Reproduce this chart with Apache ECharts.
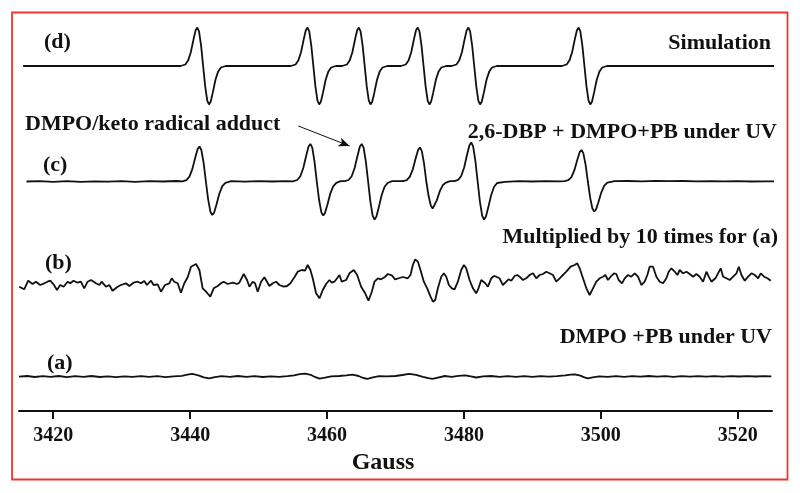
<!DOCTYPE html>
<html>
<head>
<meta charset="utf-8">
<script src="https://cdn.jsdelivr.net/npm/echarts@6/dist/echarts.min.js"></script>
<style>
html,body{margin:0;padding:0;background:#fff;}
#chart{width:800px;height:493px;}
</style>
</head>
<body>
<div id="chart"></div>
<script>
// X axis (Gauss)
const xMin = 3415, xMax = 3525;
const tickValues = [3420, 3440, 3460, 3480, 3500, 3520];

// trace vertical offsets (baseline levels, a.u.)
const traceNames = ['(d)', '(c)', '(b)', '(a)'];
const traceOffsets = [345, 229.5, 128, 34.4];

// (d) Simulation  [Gauss, intensity]
const simD = [
[3415.6,0],[3438.6,0],
[3439.3,1.5],[3439.7,5.4],[3440.1,13.8],[3440.5,26.9],[3440.8,35.7],[3441.05,38.4],[3441.3,34.6],[3441.6,20.4],[3441.9,0],[3442.2,-20.4],[3442.5,-34.6],[3442.75,-38.4],[3443.0,-35.7],[3443.3,-26.9],[3443.7,-13.8],[3444.1,-5.4],[3444.5,-1.5],[3445.2,0],
[3454.7,0],[3455.4,1.5],[3455.8,5.4],[3456.2,13.8],[3456.6,26.9],[3456.9,35.7],[3457.15,38.4],[3457.4,34.6],[3457.7,20.4],[3458.0,0],[3458.3,-20.4],[3458.6,-34.6],[3458.85,-38.4],[3459.1,-35.7],[3459.4,-26.9],[3459.8,-13.8],[3460.2,-5.4],[3460.6,-1.5],[3461.3,0],
[3462.2,0],[3462.9,1.5],[3463.3,5.4],[3463.7,13.8],[3464.1,26.9],[3464.4,35.7],[3464.65,38.4],[3464.9,34.6],[3465.2,20.4],[3465.5,0],[3465.8,-20.4],[3466.1,-34.6],[3466.35,-38.4],[3466.6,-35.7],[3466.9,-26.9],[3467.3,-13.8],[3467.7,-5.4],[3468.1,-1.5],[3468.8,0],
[3470.8,0],[3471.5,1.5],[3471.9,5.4],[3472.3,13.8],[3472.7,26.9],[3473.0,35.7],[3473.25,38.4],[3473.5,34.6],[3473.8,20.4],[3474.1,0],[3474.4,-20.4],[3474.7,-34.6],[3474.95,-38.4],[3475.2,-35.7],[3475.5,-26.9],[3475.9,-13.8],[3476.3,-5.4],[3476.7,-1.5],[3477.4,0],
[3478.2,0],[3478.9,1.5],[3479.3,5.4],[3479.7,13.8],[3480.1,26.9],[3480.4,35.7],[3480.65,38.4],[3480.9,34.6],[3481.2,20.4],[3481.5,0],[3481.8,-20.4],[3482.1,-34.6],[3482.35,-38.4],[3482.6,-35.7],[3482.9,-26.9],[3483.3,-13.8],[3483.7,-5.4],[3484.1,-1.5],[3484.8,0],
[3494.3,0],[3495.0,1.5],[3495.4,5.4],[3495.8,13.8],[3496.2,26.9],[3496.5,35.7],[3496.75,38.4],[3497.0,34.6],[3497.3,20.4],[3497.6,0],[3497.9,-20.4],[3498.2,-34.6],[3498.45,-38.4],[3498.7,-35.7],[3499.0,-26.9],[3499.4,-13.8],[3499.8,-5.4],[3500.2,-1.5],[3500.9,0],
[3525.5,0]
];

// (c) 2,6-DBP + DMPO+PB under UV
const expC = [
[3416.1,0],[3418,0.4],[3420,-0.3],[3422,0.3],[3424,-0.4],[3426,0.2],[3428,-0.2],[3430,0.4],[3432,-0.3],[3434,0.3],[3436,0],[3438,0.5],[3438.9,0.2],
[3439.45,1.4],[3439.9,4.9],[3440.33,12.6],[3440.77,24.5],[3441.1,32.6],[3441.37,35],[3441.64,31.5],[3441.97,18.6],[3442.3,0],[3442.63,-17.8],[3442.96,-30.2],[3443.23,-33.5],[3443.5,-31.2],[3443.83,-23.5],[3444.27,-12.1],[3444.7,-4.7],[3445.15,-1.3],
[3446,0.3],[3448,-0.2],[3450,0.4],[3452,0],[3454,0.3],[3455,0.2],
[3455.65,1.5],[3456.1,5.3],[3456.53,13.5],[3456.97,26.3],[3457.3,34.9],[3457.57,37.5],[3457.84,33.8],[3458.17,19.9],[3458.5,0],[3458.83,-18],[3459.16,-30.6],[3459.43,-34],[3459.7,-31.6],[3460.03,-23.8],[3460.47,-12.2],[3460.9,-4.8],[3461.35,-1.4],
[3462,0.4],[3462.6,0.3],
[3463.15,1.5],[3463.6,5.3],[3464.03,13.5],[3464.47,26.3],[3464.8,34.9],[3465.07,37.5],[3465.34,33.8],[3465.67,19.9],[3466.0,0],[3466.33,-20.1],[3466.66,-34.2],[3466.93,-38],[3467.2,-35.3],[3467.53,-26.6],[3467.97,-13.7],[3468.4,-5.3],[3468.85,-1.5],
[3469.5,0.3],[3470.8,0.4],[3471.2,0.5],
[3471.65,1.4],[3472.1,4.8],[3472.53,12.2],[3472.97,23.8],[3473.3,31.6],[3473.57,34],[3473.84,30.6],[3474.17,18],[3474.5,0],[3474.83,-14.3],[3475.16,-24.3],[3475.43,-27],[3475.7,-25.1],[3476.03,-18.9],[3476.47,-9.7],[3476.9,-3.8],[3477.35,-1.1],
[3478.0,0.3],[3478.6,0.4],
[3479.15,1.6],[3479.6,5.5],[3480.03,14],[3480.47,27.3],[3480.8,36.3],[3481.07,39],[3481.34,35.1],[3481.67,20.7],[3482.0,0],[3482.33,-20.1],[3482.66,-34.2],[3482.93,-38],[3483.2,-35.3],[3483.53,-26.6],[3483.97,-13.7],[3484.4,-5.3],[3484.85,-1.5],
[3486,-0.3],[3488,0.4],[3490,0],[3492,0.4],[3494,0.2],[3494.7,0.4],
[3495.25,1.3],[3495.7,4.4],[3496.13,11.3],[3496.57,22],[3496.9,29.3],[3497.17,31.5],[3497.44,28.4],[3497.77,16.7],[3498.1,0],[3498.43,-15.9],[3498.76,-27],[3499.03,-30],[3499.3,-27.9],[3499.63,-21],[3500.07,-10.8],[3500.5,-4.2],[3500.95,-1.2],
[3502,0.3],[3504,0.5],[3506,0.2],[3508,0.6],[3510,0.3],[3512,0.5],[3514,0.2],[3516,0.4],[3518,0.1],[3520,0.3],[3522,0],[3524,0.2],[3525.8,0]
];

// (b) Multiplied by 10 times for (a)
const expB = [
[3415.03,-3.7],[3415.76,-6.3],[3416.35,2.3],[3416.98,-1],[3417.47,1.3],[3418.10,-2],[3418.68,-0.3],[3419.17,1.3],[3419.56,2.3],[3420.05,-1.3],[3420.54,-7],[3421.02,-2],[3421.51,-3.7],[3422.10,1.3],[3422.49,-0.3],[3422.97,2.3],[3423.56,0.3],[3424.04,1.3],[3424.53,-5.3],[3425.02,1.3],[3425.51,3],[3426.24,-0.3],[3426.73,-2],[3427.07,1.3],[3427.70,-3.7],[3428.19,-2],[3428.67,-7.7],[3429.41,-3.7],[3429.89,-2],[3430.62,-0.3],[3431.11,-3],[3431.74,0.3],[3432.33,1.3],[3432.82,-0.3],[3433.30,2],[3433.69,-2],[3434.28,2.3],[3434.67,-2],[3435.25,-1.3],[3435.74,-8.7],[3436.33,-2],[3436.96,-0.3],[3437.30,4.7],[3437.69,1.3],[3438.18,-0.3],[3438.66,-9.7],[3439.15,-0.3],[3439.64,5.7],[3440.13,16.3],[3440.86,19],[3441.35,13],[3441.83,-5.3],[3442.32,-8.7],[3442.95,-13.7],[3443.44,-5.3],[3444.03,-3],[3444.51,-0.3],[3444.90,1.3],[3445.49,-1],[3446.22,0.3],[3446.85,-1],[3447.19,0.3],[3447.83,9],[3448.31,3],[3448.66,-3.7],[3449.14,1.3],[3449.48,-0.3],[3449.87,-8.7],[3450.36,1.3],[3450.85,5.7],[3451.58,-3],[3452.07,-0.3],[3452.55,1.3],[3453.04,-2],[3453.67,-3.7],[3454.16,-3],[3454.65,-0.3],[3455.23,5.7],[3455.72,11.3],[3456.31,13],[3456.79,12.3],[3457.18,18],[3457.57,13],[3457.91,4.7],[3458.40,-10.3],[3458.89,-15.3],[3459.38,-7],[3459.86,-1],[3460.35,3],[3460.69,0.3],[3461.08,1.3],[3461.47,4.7],[3461.81,8],[3462.15,1.3],[3462.79,3],[3463.27,9.7],[3463.91,13],[3464.40,8],[3464.98,-3.7],[3465.57,-10.3],[3466.05,-17.7],[3466.54,-8.7],[3466.93,1.3],[3467.42,4.7],[3467.90,3.7],[3468.39,5.7],[3468.88,9],[3469.46,7.7],[3469.95,3.7],[3470.58,5],[3471.07,6],
[3471.80,4.7],[3472.19,8],[3472.53,18],[3472.88,23.7],[3473.27,21.3],[3473.65,13],[3474.14,1.3],[3474.63,-5.3],[3475.12,-13.7],[3475.46,-18.7],[3475.80,-17],[3476.19,-5.3],[3476.68,6.3],[3477.07,9.7],[3477.41,6.3],[3477.80,-2],[3478.24,-5.3],[3478.63,-6.3],[3479.11,1.3],[3479.60,13],[3479.99,18],[3480.33,14.7],[3480.82,3],[3481.31,-5.3],[3481.79,-10.3],[3482.13,-5.3],[3482.52,3],[3482.77,4.7],[3483.11,-0.3],[3483.50,-3.7],[3483.99,4.7],[3484.38,7],[3484.72,6.3],[3485.20,4.7],[3485.69,-2],[3486.18,1.3],[3486.52,3.7],[3486.91,2.3],[3487.40,7],[3487.79,8],[3488.13,6.3],[3488.62,3],[3489.10,4.7],[3489.59,8],[3490.08,9.7],[3490.57,4.7],[3491.05,8],[3491.54,9],[3492.03,11.3],[3492.51,9.7],[3493.00,8],[3493.49,1.3],[3493.98,4.7],[3494.46,8],[3494.95,11.3],[3495.58,16.3],[3496.17,18],[3496.56,19.7],[3496.90,14.7],[3497.39,4.7],[3497.88,-5.3],[3498.36,-12],[3498.85,-5.3],[3499.34,1.3],[3499.82,4.7],[3500.31,6.3],[3500.65,8],[3501.04,3],[3501.43,6.3],[3501.92,9.7],[3502.26,9],[3502.60,3],[3503.09,-0.3],[3503.48,4.7],[3503.97,8],[3504.45,6.3],[3504.94,9.7],[3505.43,6.3],[3505.92,-2],[3506.40,1.3],[3506.79,8],[3507.13,16.3],[3507.62,16.3],[3508.11,6.3],[3508.60,1.3],[3509.08,-0.3],[3509.57,4.7],[3509.91,11.3],[3510.30,14.7],[3510.79,11.3],[3511.18,8],[3511.52,13],[3512.01,9.7],[3512.50,11.3],[3512.98,9],[3513.47,6.3],[3513.96,9],[3514.44,6.3],[3514.93,1.3],[3515.42,11.3],[3515.76,6.3],[3516.15,1.3],[3516.73,4.7],[3517.12,9.7],[3517.51,14.7],[3517.86,6.3],[3518.34,4.7],[3518.83,3],[3519.32,6.3],[3519.81,9.7],[3520.15,16.3],[3520.54,8],[3521.02,2.3],[3521.51,6.3],[3522.00,9.7],[3522.49,8],[3522.97,4.7],[3523.36,9.7],[3523.85,6.3],[3524.34,4.7],[3524.82,2.3]
];

// (a) DMPO +PB under UV
const expA = [
[3415.0,0],[3416.2,0.6],[3417.3,-0.4],[3418.5,0.5],[3419.6,-0.2],[3420.8,0.6],[3422.0,-0.5],[3423.2,0.4],[3424.4,-0.3],[3425.6,0.6],[3426.8,-0.4],[3428.0,0.3],[3429.2,-0.6],[3430.4,0.2],[3431.6,-0.3],[3432.8,0.5],[3434.0,-0.2],[3435.2,0.4],[3436.4,-0.5],[3437.6,0.3],[3438.8,0.8],[3439.6,2.0],[3440.3,2.7],[3441.2,1.2],[3442.0,-0.8],[3442.8,-1.7],[3443.6,-0.6],[3444.6,0.4],[3445.8,-0.3],[3447.0,0.6],[3448.2,-0.2],[3449.4,0.5],[3450.6,-0.4],[3451.8,0.3],[3453.0,-0.3],[3454.2,0.4],[3455.2,1.2],[3456.0,2.4],[3456.8,3.0],[3457.6,1.8],[3458.3,-0.6],[3458.9,-2.0],[3459.7,-1.0],[3460.6,0.2],[3461.8,0.6],[3462.8,1.2],[3463.7,2.0],[3464.6,0.6],[3465.3,-1.4],[3465.9,-2.3],[3466.7,-0.8],[3467.6,0.4],[3468.8,0.2],[3470.0,0.6],[3471.0,1.6],[3472.0,2.7],[3473.0,1.8],[3474.0,-0.2],[3474.8,-1.6],[3475.4,-2.3],[3476.2,-1.0],[3477.2,0.6],[3478.2,-0.2],[3479.2,0.8],[3480.2,1.2],[3481.0,0.2],[3481.8,-0.9],[3482.8,0.2],[3484.0,0.6],[3485.2,-0.2],[3486.4,0.5],[3487.6,-0.3],[3488.8,0.4],[3490.0,-0.2],[3491.2,0.5],[3492.4,-0.1],[3493.6,0.4],[3494.8,1.2],[3495.6,2.0],[3496.2,2.3],[3497.0,1.0],[3497.6,-0.8],[3498.1,-1.7],[3498.8,-0.8],[3499.8,0.3],[3501.0,-0.2],[3502.2,0.5],[3503.4,-0.3],[3504.6,0.4],[3505.8,-0.1],[3507.0,0.6],[3508.2,0],[3509.4,0.5],[3510.6,-0.2],[3511.8,0.4],[3513.0,0],[3514.2,0.5],[3515.4,-0.1],[3516.6,0.4],[3517.8,0],[3519.0,0.5],[3520.2,0.1],[3521.4,0.5],[3522.6,0.1],[3523.8,0.4],[3524.9,0.2]
];

// arrow annotation (data coords): from -> to
const arrowFrom = [3455.8, 285];
const arrowTo = [3463.3, 265];

const traces = [simD, expC, expB, expA];

const chart = echarts.init(document.getElementById('chart'), null, {renderer: 'canvas'});
const FONT = '"Liberation Serif", "Times New Roman", serif';

function shifted(arr, off) {
  return arr.map(p => [p[0], p[1] + off]);
}

const series = traces.map((arr, i) => {
  const s = {
    name: traceNames[i],
    type: 'line',
    data: shifted(arr, traceOffsets[i]),
    showSymbol: false,
    symbol: 'none',
    clip: false,
    lineStyle: {color: '#111', width: 1.8},
    animation: false,
    silent: true
  };
  if (i === 1) {
    s.markLine = {
      silent: true,
      symbol: ['none', 'arrow'],
      symbolSize: [7, 11],
      label: {show: false},
      lineStyle: {color: '#111', width: 1, type: 'solid'},
      data: [[{coord: arrowFrom}, {coord: arrowTo}]]
    };
  }
  return s;
});

const txt = (text, x, y, align) => ({
  type: 'text', x: x, y: y, silent: true,
  style: {text: text, fill: '#111', font: 'bold 22px ' + FONT, align: align, verticalAlign: 'middle'}
});

chart.setOption({
  animation: false,
  backgroundColor: '#fff',
  grid: {left: 19, right: 28, top: 20, bottom: 82},
  xAxis: {
    type: 'value', min: xMin, max: xMax,
    name: 'Gauss', nameLocation: 'middle', nameGap: 38,
    nameTextStyle: {fontFamily: FONT, fontWeight: 'bold', fontSize: 24, color: '#111', padding: [0, 25, 0, 0]},
    axisLine: {show: true, lineStyle: {color: '#111', width: 2}},
    axisTick: {show: true, inside: false, length: 8, lineStyle: {color: '#111', width: 2}, customValues: tickValues},
    axisLabel: {show: true, margin: 15, fontFamily: FONT, fontWeight: 'bold', fontSize: 20, color: '#111',
      customValues: tickValues, formatter: v => String(v)},
    splitLine: {show: false}
  },
  yAxis: {type: 'value', min: 0, max: 391, show: false, splitLine: {show: false}},
  series: series,
  graphic: [
    {type: 'rect', silent: true, shape: {x: 12, y: 12.5, width: 775.5, height: 467}, style: {fill: 'none', stroke: '#ee3535', lineWidth: 1.8}},
    txt('(d)', 44, 42, 'left'),
    txt('Simulation', 771, 43, 'right'),
    txt('DMPO/keto radical adduct', 25, 124, 'left'),
    txt('(c)', 43, 165, 'left'),
    txt('2,6-DBP + DMPO+PB under UV', 777, 132, 'right'),
    txt('Multiplied by 10 times for (a)', 778, 237, 'right'),
    txt('(b)', 45, 263, 'left'),
    txt('DMPO +PB under UV', 772, 337, 'right'),
    txt('(a)', 47, 363, 'left')
  ]
});
</script>
</body>
</html>
